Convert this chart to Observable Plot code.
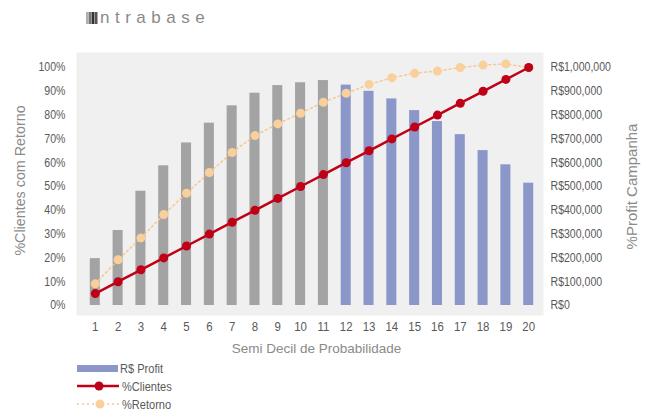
<!DOCTYPE html>
<html><head><meta charset="utf-8">
<script src="https://cdn.jsdelivr.net/npm/d3@7"></script>
<script src="https://cdn.jsdelivr.net/npm/@observablehq/plot@0.6"></script>
<style>
body{margin:0;background:#fff;width:653px;height:412px;overflow:hidden;position:relative;font-family:"Liberation Sans",Arial,sans-serif;}
#logo{position:absolute;left:86px;top:8px;height:20px;display:flex;align-items:center;}
#logo span{font-family:"Liberation Sans",Arial,sans-serif;font-size:17px;color:#8a8a8a;letter-spacing:5.5px;margin-left:2px;}
#chart{position:absolute;left:0;top:40px;}
#legend{position:absolute;left:0;top:358px;}
#legend text{font-family:"Liberation Sans",Arial,sans-serif;font-size:13px;fill:#595959;}
</style></head><body>
<div id="logo"><svg width="12" height="12"><rect x="0" y="0" width="2" height="12" fill="#b0b0b0"/><rect x="2.5" y="0" width="2.5" height="12" fill="#777"/><rect x="5.5" y="0" width="3" height="12" fill="#333"/><rect x="9" y="0" width="2.5" height="12" fill="#555"/></svg><span>ntrabase</span></div>
<div id="chart"></div>
<svg id="legend" width="300" height="54">
  <rect x="77" y="7" width="41" height="7" fill="#8b97c9"/>
  <text x="120" y="10" dy="0.35em">R$ Profit</text>
  <line x1="77" x2="119" y1="28" y2="28" stroke="#c00016" stroke-width="2.5"/>
  <circle cx="99" cy="28" r="4.5" fill="#c00016"/>
  <text x="122" y="28" dy="0.35em">%Clientes</text>
  <line x1="77" x2="119" y1="46" y2="46" stroke="#f7c88f" stroke-width="1.5" stroke-dasharray="2,3"/>
  <circle cx="100" cy="46" r="4.5" fill="#f9cf9c"/>
  <text x="122" y="46" dy="0.35em">%Retorno</text>
</svg>
<script>
const semiDecis = [1,2,3,4,5,6,7,8,9,10,11,12,13,14,15,16,17,18,19,20];
const profitBRL = [197000,315000,480000,587000,683000,766000,839000,892000,924000,936000,945000,926000,900000,868000,819000,773000,718000,651000,591000,514000];
const pctClientes = [0.05,0.10,0.15,0.20,0.25,0.30,0.35,0.40,0.45,0.50,0.55,0.60,0.65,0.70,0.75,0.80,0.85,0.90,0.95,1.00];
const pctRetorno = [0.091,0.192,0.284,0.382,0.472,0.559,0.643,0.714,0.763,0.808,0.854,0.892,0.929,0.957,0.976,0.985,1.0,1.01,1.015,1.0];
const highlightFrom = 12;
const leftTicks = [0,0.1,0.2,0.3,0.4,0.5,0.6,0.7,0.8,0.9,1.0];
const rightTicksBRL = [0,100000,200000,300000,400000,500000,600000,700000,800000,900000,1000000];
const profitMax = 1000000;
const titleX = "Semi Decil de Probabilidade";
const titleLeft = "%Clientes com Retorno";
const titleRight = "%Profit Campanha";

const data = semiDecis.map((s,i)=>({semi:s, profit:profitBRL[i]/profitMax, clientes:pctClientes[i], retorno:pctRetorno[i]}));

const fmtBRL = d3.format(",");
const chart = Plot.plot({
  width: 653, height: 320,
  marginLeft: 77, marginRight: 107, marginTop: 27, marginBottom: 55,
  style: {fontFamily: '"Liberation Sans",Arial,sans-serif', fontSize: "12px", color: "#595959", background: "transparent"},
  x: {type: "band", domain: semiDecis, padding: 0.56, round: false},
  y: {domain: [0, 1]},
  marks: [
    Plot.frame({fill: "#f0f0f0", stroke: null, insetTop: -15, insetBottom: -10, insetLeft: -1, insetRight: 3}),
    Plot.barY(data, {filter: d => d.semi < highlightFrom, x: "semi", y: "profit", fill: "#a3a3a3"}),
    Plot.barY(data, {filter: d => d.semi >= highlightFrom, x: "semi", y: "profit", fill: "#8b97c9"}),
    Plot.line(data, {x: "semi", y: "retorno", stroke: "#f7c88f", strokeWidth: 1.5, strokeDasharray: "2,3"}),
    Plot.dot(data, {x: "semi", y: "retorno", r: 4.5, fill: "#f9cf9c", stroke: null}),
    Plot.line(data, {x: "semi", y: "clientes", stroke: "#c00016", strokeWidth: 2.5}),
    Plot.dot(data, {x: "semi", y: "clientes", r: 4.5, fill: "#c00016", stroke: null}),
    Plot.axisX({tickSize: 0, tickPadding: 16, label: null, fontSize: 13}),
    Plot.axisY({anchor: "left", ticks: leftTicks, tickFormat: d3.format(".0%"), tickSize: 0, tickPadding: 12, label: null, fontSize: 12}),
    Plot.axisY({anchor: "right", ticks: rightTicksBRL.map(v => v/profitMax), tickFormat: d => "R$" + fmtBRL(Math.round(d*profitMax)), tickSize: 0, tickPadding: 4, label: null, fontSize: 12}),
    Plot.text([titleX], {frameAnchor: "bottom", textAnchor: "middle", dx: 4.5, dy: 47, fontSize: 13.5, fill: "#8a8a8a"}),
    Plot.text([titleLeft], {frameAnchor: "left", textAnchor: "middle", dx: -57, dy: -6, rotate: -90, fontSize: 14.3, fill: "#8a8a8a"}),
    Plot.text([titleRight], {frameAnchor: "right", textAnchor: "middle", dx: 86, dy: 0, rotate: -90, fontSize: 15, fill: "#8a8a8a"})
  ]
});
document.getElementById("chart").appendChild(chart);

// emulate the narrow typeface of the original labels by compressing glyphs
function squeeze(t, s) {
  const len = t.getComputedTextLength();
  if (len > 0) {
    t.setAttribute("textLength", (len * s).toFixed(2));
    t.setAttribute("lengthAdjust", "spacingAndGlyphs");
  }
}
const titles = new Set([titleX, titleLeft, titleRight]);
chart.querySelectorAll("text").forEach(t => {
  if (titles.has(t.textContent)) return;
  squeeze(t, 0.88);
});
document.querySelectorAll("#legend text").forEach(t => squeeze(t, 0.85));
</script>
</body></html>
